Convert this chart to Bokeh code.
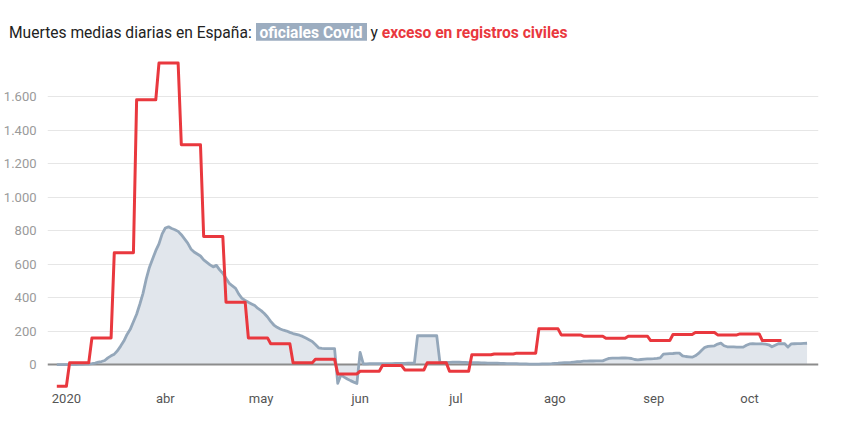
from datetime import datetime

import pandas as pd
from bokeh.embed import file_html
from bokeh.layouts import column
from bokeh.models import (ColumnDataSource, CustomJSTickFormatter, Div,
                          FixedTicker, Range1d)
from bokeh.plotting import figure
from bokeh.resources import INLINE

# Official Covid deaths, 7-day average, one value per day from 27 Feb 2020
covid_start = "2020-02-27"
covid_daily = [
    # Feb 27-29
    0, 0, 0,
    # March
    0, 0, 0, 0, 1, 1, 2, 3, 5, 9, 14, 18, 24, 40, 52, 62, 82, 110, 140, 180,
    210, 255, 300, 360, 425, 510, 580, 630, 680, 720, 780,
    # April
    815, 822, 812, 805, 795, 775, 750, 725, 690, 672, 660, 648, 625, 610, 595,
    583, 592, 565, 545, 515, 485, 470, 455, 420, 395, 383, 372, 362, 352, 335,
    # May
    322, 305, 284, 258, 236, 222, 212, 205, 200, 192, 185, 180, 175, 168, 158,
    148, 138, 120, 100, 96, 95, 95, 95, 95, -112, -62, -75, -86, -96, -105, -113,
    # June
    72, 4, 4, 5, 5, 5, 5, 6, 6, 6, 6, 7, 7, 7, 7, 8, 8, 8,
    172, 172, 172, 172, 172, 172, 172, 13, 13, 13, 13, 14,
    # July
    14, 14, 13, 13, 12, 12, 11, 11, 10, 10, 9, 9, 8, 8, 7, 7, 6, 6, 5, 5, 4, 4,
    4, 3, 3, 3, 3, 4, 4, 4, 5,
    # August
    7, 8, 10, 11, 12, 13, 15, 17, 18, 20, 20, 21, 21, 22, 22, 22, 30, 37, 38,
    38, 38, 39, 39, 38, 36, 30, 28, 30, 32, 34, 34,
    # September
    35, 37, 40, 62, 64, 65, 66, 68, 68, 52, 48, 46, 44, 52, 66, 85, 103, 108,
    110, 112, 122, 128, 112, 106, 105, 105, 104, 104, 104, 115,
    # October 1-19
    123, 124, 123, 123, 124, 122, 118, 106, 115, 124, 125, 124, 104, 123, 124,
    125, 125, 126, 127,
]

# Excess deaths in civil registries, one value per week (first week partial)
excess_start = "2020-02-27"
excess_end = "2020-10-11"
first_monday = "2020-03-02"
excess_weekly = [
    -130, 10, 159, 667, 1580, 1800, 1312, 764, 372, 159, 124, 10, 32, -56, -40,
    -6, -32, 10, -40, 58, 63, 68, 213, 177, 169, 157, 169, 143, 179, 191, 177,
    183, 143,
]

month_ticks = ["2020-03-01", "2020-04-01", "2020-05-01", "2020-06-01",
               "2020-07-01", "2020-08-01", "2020-09-01", "2020-10-01"]
month_labels = ["2020", "abr", "may", "jun", "jul", "ago", "sep", "oct"]
y_ticks = [0, 200, 400, 600, 800, 1000, 1200, 1400, 1600]
y_labels = ["0", "200", "400", "600", "800", "1.000", "1.200", "1.400", "1.600"]

title_lead = "Muertes medias diarias en España:"
title_covid = "oficiales Covid"
title_join = "y"
title_excess = "exceso en registros civiles"

GREY_LINE = "#94a7ba"
GREY_FILL = "#e1e6ec"
GREY_TAG = "#9cadc0"
RED = "#e9383e"
FONT = "Roboto"

covid_dates = pd.date_range(covid_start, periods=len(covid_daily), freq="D")
covid = ColumnDataSource(dict(date=covid_dates, deaths=covid_daily))

# Expand the weekly excess into daily points so each week draws as a plateau
excess_dates = pd.date_range(excess_start, excess_end, freq="D")
monday = pd.Timestamp(first_monday)
week_idx = [max(0, (d - monday).days // 7 + 1) for d in excess_dates]
excess = ColumnDataSource(dict(
    date=excess_dates,
    deaths=[excess_weekly[i] for i in week_idx],
))

p = figure(
    width=846, height=397, x_axis_type="datetime",
    x_range=Range1d(datetime(2020, 2, 24, 2), datetime(2020, 10, 22, 14)),
    y_range=Range1d(-149, 1815),
    min_border_left=46, min_border_right=28,
    min_border_top=20, min_border_bottom=48,
    toolbar_location=None, output_backend="svg", margin=0,
)
p.outline_line_color = None
p.background_fill_color = "white"

# Shaded area under the official series, zero line, then both series
p.varea(x="date", y1=0, y2="deaths", source=covid, fill_color=GREY_FILL)
p.hspan(y=[y_ticks[0]], line_color="#8c8c8c", line_width=2)
p.line(x="date", y="deaths", source=covid, line_color=GREY_LINE,
       line_width=2.8, line_join="round")
p.line(x="date", y="deaths", source=excess, line_color=RED,
       line_width=3, line_join="round")

LOOKUP = "const i = tick_vals.indexOf(tick); return i >= 0 ? tick_text[i] : '';"
tick_ms = [pd.Timestamp(t).value / 1e6 for t in month_ticks]
p.xaxis.ticker = FixedTicker(ticks=tick_ms)
p.xaxis.formatter = CustomJSTickFormatter(
    args=dict(tick_vals=tick_ms, tick_text=month_labels), code=LOOKUP,
)
p.yaxis.ticker = FixedTicker(ticks=y_ticks)
p.yaxis.formatter = CustomJSTickFormatter(
    args=dict(tick_vals=y_ticks, tick_text=y_labels), code=LOOKUP,
)

for ax in (p.xaxis[0], p.yaxis[0]):
    ax.axis_line_color = None
    ax.major_tick_line_color = None
    ax.minor_tick_line_color = None
    ax.major_tick_out = 0
    ax.major_tick_in = 0
    ax.minor_tick_out = 0
    ax.minor_tick_in = 0
    ax.major_label_text_font = FONT
    ax.major_label_text_font_size = "13px"
p.xaxis.major_label_text_color = "#555555"
p.xaxis.major_label_standoff = 1
p.yaxis.major_label_text_color = "#9a9a9a"
p.yaxis.major_label_standoff = 11

p.xgrid.grid_line_color = None
p.ygrid.ticker = FixedTicker(ticks=y_ticks[1:])
p.ygrid.grid_line_color = "#e6e6e6"
p.ygrid.grid_line_width = 1

# Heading with the two series names coloured like their lines
heading = Div(
    text=(
        f'<div style="padding:24px 0 0 9px;font-family:{FONT};'
        f'font-size:15.6px;line-height:18px;color:#222;white-space:nowrap;">'
        f'{title_lead} '
        f'<span style="background:{GREY_TAG};color:#fff;font-weight:bold;'
        f'padding:1px 4px;">{title_covid}</span> '
        f'{title_join} '
        f'<span style="color:{RED};font-weight:bold;">{title_excess}</span>'
        f'</div>'
    ),
    width=846, height=40, margin=0,
)

layout = column(heading, p, spacing=0, margin=0)
open("out.html", "w").write(file_html(layout, INLINE))
